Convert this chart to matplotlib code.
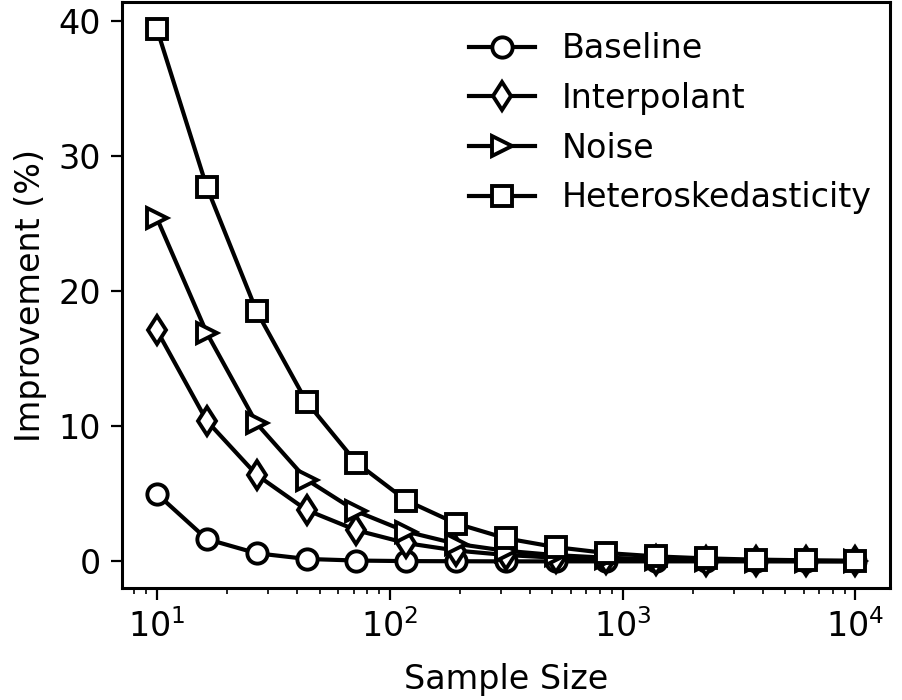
import numpy as np
import matplotlib
matplotlib.use("Agg")
import matplotlib.pyplot as plt

sample_sizes = np.logspace(1, 4, 15)
baseline = [5.0, 1.65, 0.6, 0.18, 0.06, 0.02, 0.01, 0.0, 0.0, 0.0, 0.0, 0.0, 0.0, 0.0, 0.0]
interpolant = [17.1, 10.4, 6.4, 3.8, 2.3, 1.35, 0.8, 0.47, 0.27, 0.16, 0.09, 0.05, 0.03, 0.02, 0.01]
noise = [25.4, 16.9, 10.2, 6.05, 3.7, 2.2, 1.3, 0.78, 0.46, 0.27, 0.16, 0.09, 0.05, 0.03, 0.02]
hetero = [39.4, 27.7, 18.5, 11.8, 7.3, 4.5, 2.8, 1.7, 1.05, 0.62, 0.37, 0.22, 0.13, 0.08, 0.05]
yticks = [0, 10, 20, 30, 40]

series = [("Baseline", baseline, "o"), ("Interpolant", interpolant, "d"),
          ("Noise", noise, ">"), ("Heteroskedasticity", hetero, "s")]

plt.rcParams['font.size'] = 12
plt.rcParams['axes.linewidth'] = 1.1
plt.rcParams['xtick.major.size'] = 4.3
plt.rcParams['ytick.major.size'] = 4.0
fig = plt.figure(figsize=(4.515, 3.5), dpi=200)
ax = fig.add_axes([0.135, 0.16, 0.851, 0.837])
for name, vals, m in series:
    ax.plot(sample_sizes, vals, marker=m, color='black', markerfacecolor='white',
            markeredgecolor='black', markersize=7.3, markeredgewidth=1.4,
            linewidth=1.5, label=name)
ax.set_xscale('log')
ax.set_yticks(yticks)
ax.set_xlabel('Sample Size', labelpad=6.5)
ax.set_ylabel('Improvement (%)')
ax.legend(frameon=False, loc='upper right', borderaxespad=0,
          bbox_to_anchor=(0.9935, 0.971))
fig.savefig('out.png', dpi=200)
